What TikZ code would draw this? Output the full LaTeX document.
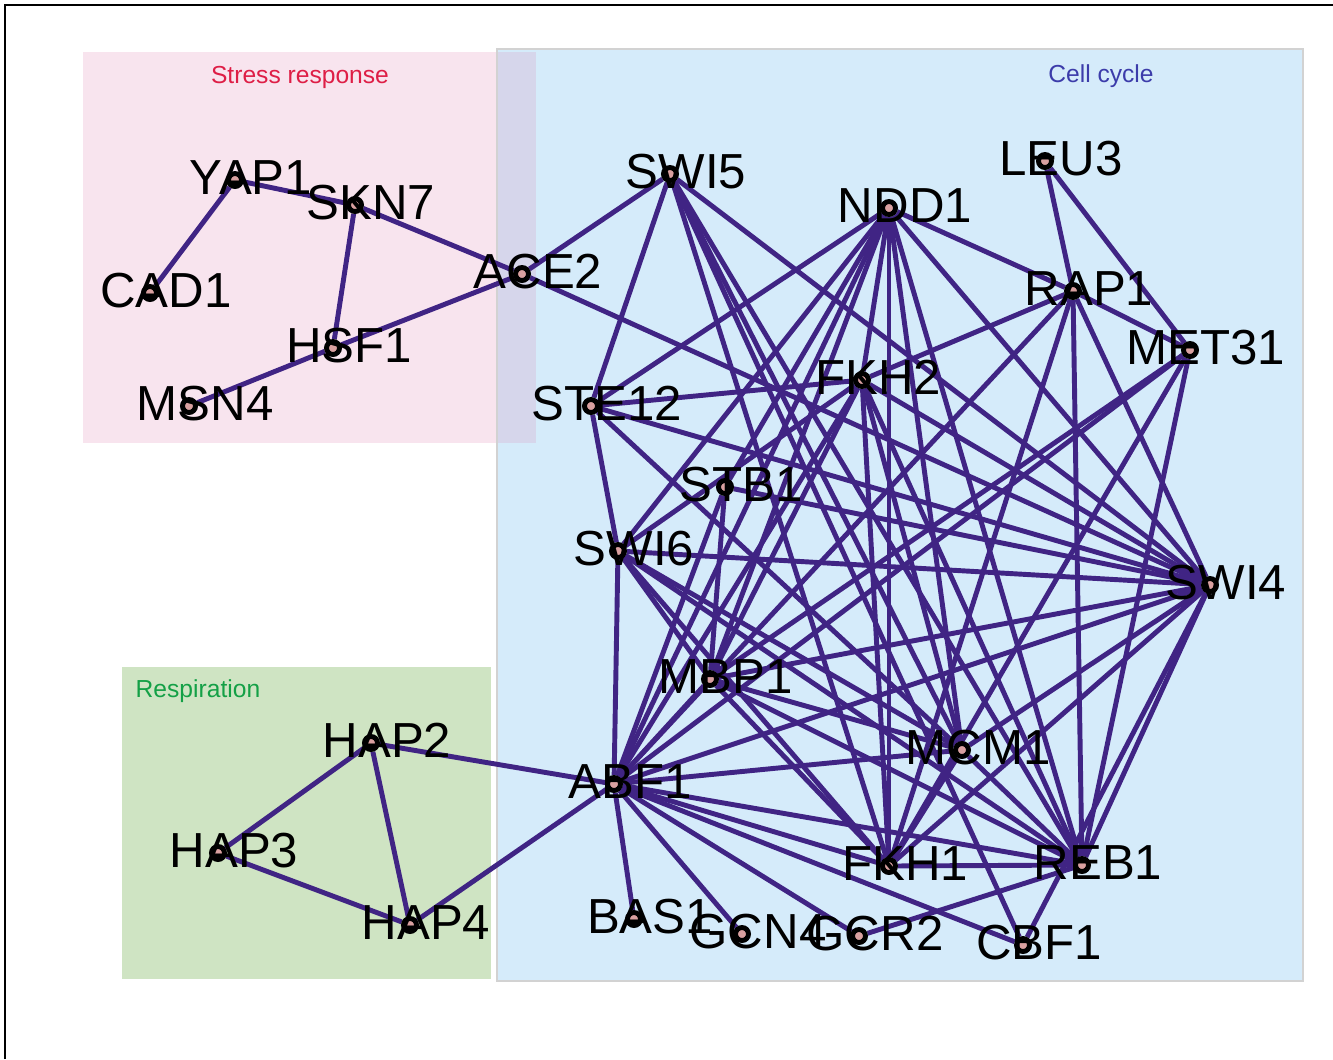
\documentclass[tikz,border=0pt]{standalone}
\usepackage{fontspec}
\setmainfont{Liberation Sans}
\usepackage{tikz}
\usetikzlibrary{positioning}

\definecolor{pinkbox}{RGB}{248,228,238}
\definecolor{bluebox}{RGB}{213,235,250}
\definecolor{mixbox}{RGB}{214,214,235}
\definecolor{greenbox}{RGB}{207,228,195}
\definecolor{boxline}{RGB}{210,210,210}
\definecolor{linkcol}{RGB}{64,36,132}
\definecolor{nodepink}{RGB}{217,160,160}
\definecolor{stresscol}{RGB}{222,30,70}
\definecolor{cyclecol}{RGB}{60,60,170}
\definecolor{respcol}{RGB}{20,160,70}

\pgfdeclarelayer{boxes}
\pgfdeclarelayer{links}
\pgfsetlayers{boxes,links,main}

\tikzset{
  tf/.style={circle, draw=black, line width=1.4pt, fill=nodepink,
    inner sep=0pt, minimum size=0.13cm, label={[lbl]center:#1}},
  lbl/.style={font=\fontsize{14}{14}\selectfont, inner sep=0pt,
    xshift=0.16cm, yshift=0.025cm},
  link/.style={draw=linkcol, line width=1.4pt},
  boxtitle/.style={font=\fontsize{7}{7}\selectfont, inner sep=0pt}
}

\begin{document}
\begin{tikzpicture}[x=0.01cm,y=-0.01cm]
\useasboundingbox (0,0) rectangle (1333,1059);

% module boxes
\begin{pgfonlayer}{boxes}
  \fill[pinkbox] (83,52) rectangle (536,443);
  \fill[bluebox] (497,49) rectangle (1303,981);
  \fill[mixbox] (497,52) rectangle (536,443);
  \draw[boxline, line width=0.8pt] (497,49) rectangle (1303,981);
  \fill[greenbox] (122,667) rectangle (491,979);
  \draw[black, line width=0.5pt] (5,1059) -- (5,5) -- (1333,5);
\end{pgfonlayer}

\node[boxtitle, text=stresscol] (t_stress) at (300,77) {Stress response};
\node[boxtitle, text=cyclecol] (t_cycle) at (1101,76) {Cell cycle};
\node[boxtitle, text=respcol, anchor=west] (t_resp) at (135,691) {Respiration};

% stress response
\node[tf=YAP1] (yap1) at (235,180) {};
\node[tf=SKN7] (skn7) at (355,205) {};
\node[tf=CAD1] (cad1) at (150,293) {};
\node[tf=HSF1] (hsf1) at (333,348) {};
\node[tf=MSN4] (msn4) at (189,406) {};
\node[tf=ACE2] (ace2) at (522,274) {};

% cell cycle
\node[tf=SWI5] (swi5) at (670,174) {};
\node[tf=NDD1] (ndd1) at (889,208) {};
\node[tf=LEU3] (leu3) at (1045,161) {};
\node[tf=RAP1] (rap1) at (1073,291) {};
\node[tf=MET31] (met31) at (1190,350) {};
\node[tf=FKH2] (fkh2) at (862,380) {};
\node[tf=STE12] (ste12) at (591,406) {};
\node[tf=STB1] (stb1) at (725,487) {};
\node[tf=SWI6] (swi6) at (618,551) {};
\node[tf=SWI4] (swi4) at (1210,585) {};
\node[tf=MBP1] (mbp1) at (710,679) {};
\node[tf=MCM1] (mcm1) at (962,750) {};
\node[tf=ABF1] (abf1) at (614,784) {};
\node[tf=FKH1] (fkh1) at (889,866) {};
\node[tf=REB1] (reb1) at (1082,865) {};
\node[tf=BAS1] (bas1) at (634,919) {};
\node[tf=GCN4] (gcn4) at (742,934) {};
\node[tf=GCR2] (gcr2) at (859,936) {};
\node[tf=CBF1] (cbf1) at (1023,945) {};

% respiration
\node[tf=HAP2] (hap2) at (371,743) {};
\node[tf=HAP3] (hap3) at (218,853) {};
\node[tf=HAP4] (hap4) at (410,925) {};

\begin{pgfonlayer}{links}
\path[link]
  (yap1) edge (cad1)
  (yap1) edge (skn7)
  (skn7) edge (hsf1)
  (skn7) edge (ace2)
  (msn4) edge (hsf1)
  (hsf1) edge (ace2)
  (ace2) edge (swi5)
  (ace2) edge (swi4)
  (hap2) edge (hap3)
  (hap2) edge (hap4)
  (hap3) edge (hap4)
  (hap2) edge (abf1)
  (hap4) edge (abf1)
  (swi5) edge (ste12)
  (swi5) edge (fkh1)
  (swi5) edge (mcm1)
  (swi5) edge (reb1)
  (swi5) edge (swi4)
  (swi5) edge (cbf1)
  (ndd1) edge (ste12)
  (ndd1) edge (rap1)
  (ndd1) edge (fkh2)
  (ndd1) edge (stb1)
  (ndd1) edge (swi6)
  (ndd1) edge (mbp1)
  (ndd1) edge (abf1)
  (ndd1) edge (fkh1)
  (ndd1) edge (mcm1)
  (ndd1) edge (reb1)
  (ndd1) edge (swi4)
  (leu3) edge (rap1)
  (leu3) edge (met31)
  (rap1) edge (met31)
  (rap1) edge (fkh2)
  (rap1) edge (abf1)
  (rap1) edge (fkh1)
  (rap1) edge (reb1)
  (rap1) edge (swi4)
  (met31) edge (mbp1)
  (met31) edge (abf1)
  (met31) edge (fkh1)
  (met31) edge (reb1)
  (fkh2) edge (ste12)
  (fkh2) edge (swi6)
  (fkh2) edge (mbp1)
  (fkh2) edge (abf1)
  (fkh2) edge (fkh1)
  (fkh2) edge (mcm1)
  (fkh2) edge (reb1)
  (fkh2) edge (swi4)
  (ste12) edge (swi6)
  (ste12) edge (swi4)
  (ste12) edge (mcm1)
  (stb1) edge (mbp1)
  (stb1) edge (swi4)
  (stb1) edge (abf1)
  (swi6) edge (swi4)
  (swi6) edge (mbp1)
  (swi6) edge (abf1)
  (swi6) edge (mcm1)
  (swi6) edge (fkh1)
  (swi6) edge (reb1)
  (mbp1) edge (abf1)
  (mbp1) edge (swi4)
  (mbp1) edge (mcm1)
  (mbp1) edge (fkh1)
  (mbp1) edge (reb1)
  (abf1) edge (mcm1)
  (abf1) edge (fkh1)
  (abf1) edge (reb1)
  (abf1) edge (swi4)
  (abf1) edge (bas1)
  (abf1) edge (gcn4)
  (abf1) edge (gcr2)
  (abf1) edge (cbf1)
  (mcm1) edge (fkh1)
  (mcm1) edge (reb1)
  (mcm1) edge (swi4)
  (fkh1) edge (reb1)
  (fkh1) edge (swi4)
  (reb1) edge (swi4)
  (reb1) edge (gcr2)
  (cbf1) edge (swi4);
\end{pgfonlayer}
\end{tikzpicture}
\end{document}
